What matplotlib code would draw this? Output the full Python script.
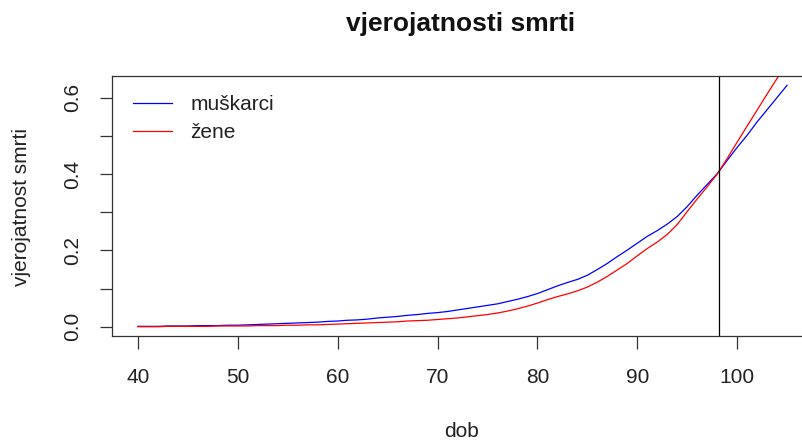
import matplotlib
matplotlib.use("Agg")
import matplotlib.pyplot as plt
import numpy as np

plt.rcParams['font.family'] = ['Liberation Sans', 'DejaVu Sans']

ages = list(range(40, 106))
muskarci = [0.001, 0.001, 0.001, 0.002, 0.002, 0.002, 0.003, 0.003, 0.003, 0.004,
            0.004, 0.005, 0.006, 0.007, 0.008, 0.009, 0.010, 0.011, 0.012, 0.014,
            0.015, 0.017, 0.018, 0.020, 0.023, 0.025, 0.027, 0.030, 0.032, 0.035,
            0.037, 0.040, 0.044, 0.048, 0.052, 0.056, 0.060, 0.066, 0.072, 0.079,
            0.087, 0.097, 0.107, 0.116, 0.124, 0.135, 0.150, 0.166, 0.184, 0.201,
            0.219, 0.237, 0.252, 0.269, 0.289, 0.315, 0.345, 0.373, 0.401, 0.436,
            0.470, 0.502, 0.537, 0.569, 0.601, 0.633]
zene = [0.000, 0.000, 0.000, 0.001, 0.001, 0.001, 0.001, 0.001, 0.002, 0.002,
        0.002, 0.002, 0.003, 0.003, 0.003, 0.004, 0.004, 0.005, 0.005, 0.006,
        0.007, 0.008, 0.009, 0.010, 0.011, 0.012, 0.013, 0.015, 0.016, 0.017,
        0.019, 0.021, 0.023, 0.026, 0.029, 0.032, 0.036, 0.041, 0.047, 0.054,
        0.062, 0.071, 0.079, 0.086, 0.094, 0.104, 0.117, 0.132, 0.149, 0.166,
        0.186, 0.205, 0.222, 0.242, 0.268, 0.302, 0.335, 0.367, 0.400, 0.441,
        0.484, 0.526, 0.568, 0.610, 0.651, 0.692]
presjek = 98.2
xticks = [40, 50, 60, 70, 80, 90, 100]
yticks = [0.0, 0.1, 0.2, 0.3, 0.4, 0.5, 0.6]
ytick_labels = ["0.0", "", "0.2", "", "0.4", "", "0.6"]
series_labels = ["muškarci", "žene"]

W, H = 803, 441
fig = plt.figure(figsize=(W / 100, H / 100), dpi=100)
L, R, T, B = 112, 813, 75.7, 336
ax = fig.add_axes([L / W, 1 - B / H, (R - L) / W, (B - T) / H])

ax.plot(ages, muskarci, color='#0000FF', lw=0.9, label=series_labels[0])
ax.plot(ages, zene, color='#FF0000', lw=0.9, label=series_labels[1])
ax.axvline(presjek, color='black', lw=0.9)

# R-style limits (4% padding from men's series)
xr = max(ages) - min(ages)
ax.set_xlim(min(ages) - 0.04 * xr, max(ages) + 0.04 * xr)
yr = max(muskarci) - min(muskarci)
ax.set_ylim(min(muskarci) - 0.04 * yr, max(muskarci) + 0.04 * yr)

for s in ax.spines.values():
    s.set_linewidth(0.9)
    s.set_color('#333333')

ax.set_xticks(xticks)
ax.set_xticklabels([str(t) for t in xticks], fontsize=15)
ax.tick_params(axis='x', length=9, width=0.9, pad=14, colors='#333333', labelcolor='#222222')
ax.set_yticks(yticks)
ax.set_yticklabels([""] * len(yticks))
ax.tick_params(axis='y', length=9, width=0.9, colors='#333333')
ytr = ax.get_yaxis_transform()
for t, lab in zip(yticks, ytick_labels):
    if lab:
        ax.text((78 - L) / (R - L), t, lab, transform=ytr, rotation=90,
                rotation_mode='anchor', ha='center', va='baseline',
                fontsize=15, color='#222222')

leg = ax.legend(loc='upper left', bbox_to_anchor=((133 - L) / (R - L), 1 - (95 - T) / (B - T)),
                frameon=False, fontsize=15, handlelength=1.86, handletextpad=0.9,
                labelspacing=0.45, borderpad=0, borderaxespad=0)
for txt in leg.get_texts():
    txt.set_color('#222222')

fig.text(461 / W, 1 - 31 / H, "vjerojatnosti smrti", ha='center', va='baseline',
         fontsize=19, fontweight='bold', color='#111111')
fig.text(462 / W, 1 - 437 / H, "dob", ha='center', va='baseline',
         fontsize=15, color='#222222')
fig.text(27 / W, 1 - 206.5 / H, "vjerojatnost smrti", rotation=90, rotation_mode='anchor',
         ha='center', va='baseline', fontsize=15, color='#222222')

fig.savefig("out.png", dpi=100)
